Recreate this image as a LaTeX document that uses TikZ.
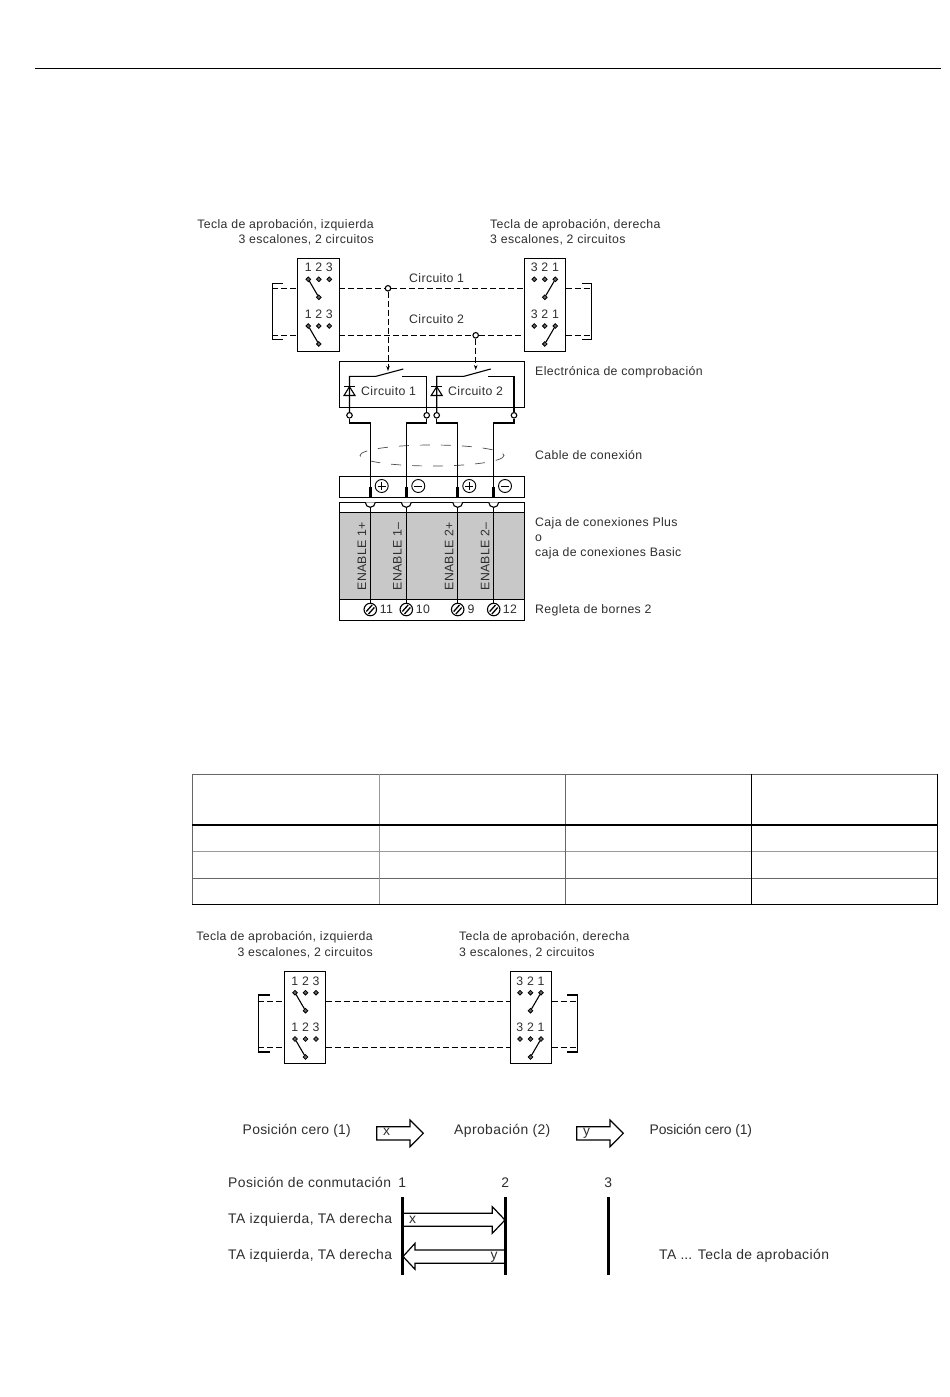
\documentclass[tikz,border=0pt]{standalone}
\usepackage{fontspec}
\setmainfont{Liberation Sans}[LetterSpace=3]
\usepackage{xcolor}
\usetikzlibrary{arrows.meta,positioning,shapes.geometric}
\definecolor{txtgray}{HTML}{2E2E2E}
\definecolor{fillgray}{HTML}{C8C8C8}

\tikzset{
lbl/.style={font=\fontsize{12.3}{14}\selectfont,text=txtgray,inner sep=0pt,text height=9.6pt,text depth=1pt},
biglbl/.style={font=\fontsize{13.9}{15}\selectfont,text=txtgray,inner sep=0pt,text height=9.6pt,text depth=1pt},
box/.style={draw,line width=1pt},
wire/.style={line width=1.1pt},
circuit/.style={line width=1pt,dash pattern=on 6pt off 3pt},
port/.style={circle,draw,fill=white,line width=1.1pt,minimum size=5.5pt,inner sep=0pt},
contact/.style={diamond,draw,fill=black!60,line width=0.8pt,minimum size=5pt,inner sep=0pt},
bar/.style={line width=3pt},
blockarrow/.style={line width=1.2pt,fill=white,line join=miter},
signcircle/.style={circle,draw,line width=0.9pt,minimum size=13pt,inner sep=0pt},
screw/.style={circle,draw,fill=white,line width=1.1pt,minimum size=12.5pt,inner sep=0pt},
% switch key, contacts numbered from the left
leftkey/.pic={
\node[contact] (-a) at (11,21) {};
\node[contact] (-b) at (21.5,21) {};
\node[contact] (-c) at (32,21) {};
\node[contact] (-d) at (21.5,39) {};
\draw[wire] (-a) -- (-d);
\node[lbl] (-n) at (21.5,9.3) {1 2 3};
},
rightkey/.pic={
\node[contact] (-a) at (10,21) {};
\node[contact] (-b) at (20.5,21) {};
\node[contact] (-c) at (31,21) {};
\node[contact] (-d) at (20.5,39) {};
\draw[wire] (-c) -- (-d);
\node[lbl] (-n) at (20.5,9.3) {3 2 1};
}
}

\begin{document}
\begin{tikzpicture}[x=1pt,y=-1pt]
\useasboundingbox (0,0) rectangle (950,1397);

% Top rule
\coordinate (ruleL) at (35,68.5);
\coordinate (ruleR) at (941,68.5);
\draw[line width=1pt] (ruleL) -- (ruleR);

% Upper keys
\node[lbl,anchor=east] (titleL1) at (374,224) {Tecla de aprobación, izquierda};
\node[lbl,anchor=east] (titleL2) at (374,239) {3 escalones, 2 circuitos};
\node[lbl,anchor=west] (titleR1) at (490,224) {Tecla de aprobación, derecha};
\node[lbl,anchor=west] (titleR2) at (490,239) {3 escalones, 2 circuitos};

\draw[box] (297.3,258.3) rectangle (339.3,351);
\draw[box] (524.3,258.3) rectangle (565.7,351);
\pic (ka) at (297.3,258.3) {leftkey};
\pic (kb) at (297.3,305) {leftkey};
\pic (kc) at (524.3,258.3) {rightkey};
\pic (kd) at (524.3,305) {rightkey};

\coordinate (lineA) at (272.3,288.3);
\coordinate (lineB) at (272.3,335.3);
\coordinate (lineC) at (591.7,288.3);
\coordinate (lineD) at (591.7,335.3);
\node[port] (jA) at (388,288.3) {};
\node[port] (jB) at (475.7,335.3) {};
\draw[circuit] (lineA) -- (297.3,288.3) (339.3,288.3) -- (jA) -- (524.3,288.3) (565.7,288.3) -- (lineC);
\draw[circuit] (lineB) -- (297.3,335.3) (339.3,335.3) -- (jB) -- (524.3,335.3) (565.7,335.3) -- (lineD);
\draw[wire] (283,283.3) -| (272.3,339.3) -- (283,339.3);
\draw[wire] (581.7,283.3) -| (591.7,339.3) -- (581.7,339.3);
\node[lbl,anchor=west] (circA) at (409,278) {Circuito 1};
\node[lbl,anchor=west] (circB) at (409,319) {Circuito 2};

% Test electronics
\draw[box] (339.3,361.7) rectangle (524.6,407.3);
\node[lbl,anchor=west] (testlbl) at (535,371) {Electrónica de comprobación};
\node[port] (pA) at (349.5,415.3) {};
\node[port] (pB) at (426.7,415.3) {};
\node[port] (pC) at (436.7,415.3) {};
\node[port] (pD) at (514,415.3) {};
\coordinate (swA) at (376,376.3);
\coordinate (swB) at (403.3,369);
\coordinate (swC) at (464,376.3);
\coordinate (swD) at (490.7,369);
\draw[wire] (pA) |- (swA) -- (swB);
\draw[wire] (pB) |- (401.7,376.3);
\draw[wire] (pC) |- (swC) -- (swD);
\draw[wire] (pD) |- (488.3,376.3);
\draw[circuit,-{Stealth[length=5pt,width=3.5pt]}] (jA) -- (388,371);
\draw[circuit,-{Stealth[length=5pt,width=3.5pt]}] (jB) -- (475.7,370);
\foreach \dx in {349.5,436.7} {
\draw[wire] (\dx-5.5,386.7) -- (\dx+5.5,386.7);
\draw[wire] (\dx,386.7) -- (\dx-5.5,395.5) -- (\dx+5.5,395.5) -- cycle;
}
\node[lbl,anchor=west] (diodeA) at (361,391) {Circuito 1};
\node[lbl,anchor=west] (diodeB) at (448,391) {Circuito 2};

% Cable
\draw[line width=0.7pt,color=black!70,dash pattern=on 10pt off 11pt] (432,455.5) ellipse (72 and 10.5);
\node[lbl,anchor=west] (cablelbl) at (535,455) {Cable de conexión};

% Plug
\draw[box] (339.3,476.3) rectangle (524.6,497.3);
\node[signcircle] (sA) at (381.7,486) {};
\node[signcircle] (sB) at (418.3,486) {};
\node[signcircle] (sC) at (469.3,486) {};
\node[signcircle] (sD) at (505,486) {};
\draw[line width=0.9pt] (sA) +(-4,0) -- +(4,0) (sA) +(0,-4) -- +(0,4);
\draw[line width=0.9pt] (sB) +(-4,0) -- +(4,0);
\draw[line width=0.9pt] (sC) +(-4,0) -- +(4,0) (sC) +(0,-4) -- +(0,4);
\draw[line width=0.9pt] (sD) +(-4,0) -- +(4,0);

% Connection box
\draw[box,fill=fillgray] (339.3,512.3) rectangle (524.6,599.3);
\draw[box] (339.3,502.3) rectangle (524.6,512.3);
\draw[box] (339.3,599.3) rectangle (524.6,620);
\node[lbl,anchor=west] (boxlblA) at (535,522) {Caja de conexiones Plus};
\node[lbl,anchor=west] (boxlblB) at (535,537) {o};
\node[lbl,anchor=west] (boxlblC) at (535,552) {caja de conexiones Basic};
\node[lbl,anchor=west] (termlbl) at (535,609) {Regleta de bornes 2};

\foreach \nm/\wx/\tx/\en/\num/\numx in {
A/370.3/361.7/ENABLE 1+/11/386.5,
B/406.3/397.4/ENABLE 1–/10/423,
C/457.7/449/ENABLE 2+/9/471,
D/493.7/485/ENABLE 2–/12/510} {
\draw[bar] (\wx,487.3) -- (\wx,497.3);
\draw[wire,fill=white] (\wx-5,502.3) arc (180:0:5);
\node[screw] (t\nm) at (\wx,609.5) {};
\draw[wire] (\wx,507.3) -- (t\nm);
\draw[line width=1.3pt] (\wx-4,611.5) -- (\wx+1.8,605) (\wx-1.8,614) -- (\wx+4,607.5);
\node[lbl,rotate=90,anchor=west] (en\nm) at (\tx,590.7) {\en};
\node[lbl] (num\nm) at (\numx,609) {\num};
}
\draw[wire] (pA) -- (349.5,423) -| (370.3,487.3);
\draw[wire] (pB) -- (426.7,423) -| (406.3,487.3);
\draw[wire] (pC) -- (436.7,423) -| (457.7,487.3);
\draw[wire] (pD) -- (514,423) -| (493.7,487.3);

% Table
\foreach \ty/\tc in {774/black!60,851.7/black!40,878/black!60,904.3/black} {
\draw[line width=1pt,color=\tc] (192,\ty) -- (937.5,\ty);
}
\foreach \tx/\tc in {192/black!60,379/black!40,565/black!60,751/black,937.5/black} {
\draw[line width=1pt,color=\tc] (\tx,774) -- (\tx,904.3);
}
\draw[line width=2pt] (192,824.7) -- (937.5,824.7);

% Lower keys
\node[lbl,anchor=east] (titleL3) at (373,936) {Tecla de aprobación, izquierda};
\node[lbl,anchor=east] (titleL4) at (373,952) {3 escalones, 2 circuitos};
\node[lbl,anchor=west] (titleR3) at (459,936) {Tecla de aprobación, derecha};
\node[lbl,anchor=west] (titleR4) at (459,952) {3 escalones, 2 circuitos};

\draw[box] (284.3,971.7) rectangle (325.7,1063.3);
\draw[box] (510,971.7) rectangle (551.7,1063.3);
\pic (ke) at (284,971.7) {leftkey};
\pic (kf) at (284,1018) {leftkey};
\pic (kg) at (510,971.7) {rightkey};
\pic (kh) at (510,1018) {rightkey};
\coordinate (lineE) at (258.3,1001.3);
\coordinate (lineF) at (258.3,1047.3);
\coordinate (lineG) at (577.3,1001.3);
\coordinate (lineH) at (577.3,1047.3);
\draw[circuit] (lineE) -- (284.3,1001.3) (325.7,1001.3) -- (510,1001.3) (551.7,1001.3) -- (lineG);
\draw[circuit] (lineF) -- (284.3,1047.3) (325.7,1047.3) -- (510,1047.3) (551.7,1047.3) -- (lineH);
\draw[wire] (270,995) -| (258.3,1052) -- (270,1052);
\draw[wire] (567,995) -| (577.3,1052) -- (567,1052);

% Sequence
\node[biglbl,anchor=west] (seqA) at (242.5,1130) {\addfontfeature{LetterSpace=2}Posición cero (1)};
\node[biglbl,anchor=west] (seqB) at (454,1130) {Aprobación (2)};
\node[biglbl,anchor=west] (seqC) at (649.5,1130) {\addfontfeature{LetterSpace=-1}Posición cero (1)};
\foreach \ax/\nm in {376.7/x,576.7/y} {
\draw[blockarrow] (\ax,1126.7) -- (\ax+33.3,1126.7) -- (\ax+33.3,1120) -- (\ax+46.6,1133.3) -- (\ax+33.3,1146.7) -- (\ax+33.3,1140) -- (\ax,1140) -- cycle;
\node[biglbl] (seq\nm) at (\ax+10,1131) {\nm};
}

\node[biglbl,anchor=west] (posA) at (228,1183) {Posición de conmutación};
\node[biglbl,anchor=west] (posB) at (228,1219) {TA izquierda, TA derecha};
\node[biglbl,anchor=west] (posC) at (228,1255) {TA izquierda, TA derecha};
\node[biglbl] (n1) at (402.3,1183) {1};
\node[biglbl] (n2) at (505.3,1183) {2};
\node[biglbl] (n3) at (608.3,1183) {3};
\node[biglbl,anchor=west] (talbl) at (659,1255) {TA .\kern0pt.\kern0pt. Tecla de aprobación};

\draw[blockarrow] (403,1213.3) -- (492.3,1213.3) -- (492.3,1206.7) -- (505,1220) -- (492.3,1233.3) -- (492.3,1226.3) -- (403,1226.3);
\draw[blockarrow] (505,1250) -- (415,1250) -- (415,1243.3) -- (403,1256.5) -- (415,1269.3) -- (415,1263.3) -- (505,1263.3);
\node[biglbl] (arrx) at (412.5,1219) {x};
\node[biglbl] (arry) at (494,1255) {y};
\coordinate (topA) at (402.3,1197.3);
\coordinate (botA) at (402.3,1275);
\coordinate (topB) at (505.3,1197.3);
\coordinate (botB) at (505.3,1275);
\coordinate (topC) at (608.3,1197.3);
\coordinate (botC) at (608.3,1275);
\draw[bar] (topA) -- (botA);
\draw[bar] (topB) -- (botB);
\draw[bar] (topC) -- (botC);

\end{tikzpicture}
\end{document}
